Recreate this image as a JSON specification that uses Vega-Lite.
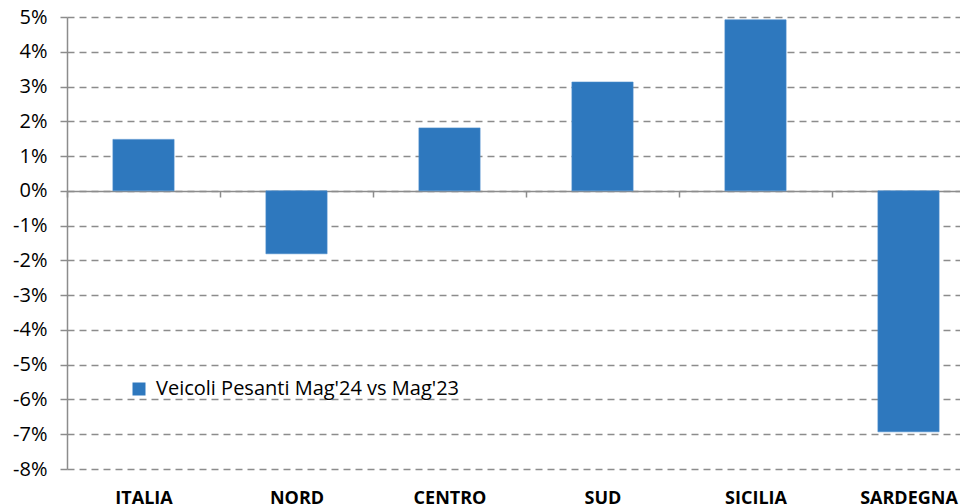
{
  "$schema": "https://vega.github.io/schema/vega-lite/v6.json",
  "width": 918,
  "height": 452,
  "autosize": {"type": "none"},
  "padding": {"left": 67, "top": 17, "right": 0, "bottom": 35},
  "background": "white",
  "config": {
    "view": {"stroke": null},
    "font": "Open Sans"
  },
  "data": {
    "values": [
      {"region": "ITALIA", "value": 0.0148, "series": "Veicoli Pesanti Mag'24 vs Mag'23"},
      {"region": "NORD", "value": -0.0181, "series": "Veicoli Pesanti Mag'24 vs Mag'23"},
      {"region": "CENTRO", "value": 0.0181, "series": "Veicoli Pesanti Mag'24 vs Mag'23"},
      {"region": "SUD", "value": 0.0313, "series": "Veicoli Pesanti Mag'24 vs Mag'23"},
      {"region": "SICILIA", "value": 0.0492, "series": "Veicoli Pesanti Mag'24 vs Mag'23"},
      {"region": "SARDEGNA", "value": -0.0693, "series": "Veicoli Pesanti Mag'24 vs Mag'23"}
    ]
  },
  "mark": {"type": "bar", "width": {"band": 0.4}, "stroke": "#4a8ccb", "strokeWidth": 0.6},
  "encoding": {
    "x": {
      "field": "region",
      "type": "nominal",
      "sort": null,
      "scale": {"paddingInner": 0, "paddingOuter": 0},
      "axis": {
        "title": null,
        "orient": "bottom",
        "offset": -278,
        "labelAngle": 0,
        "labelFont": "Open Sans",
        "labelFontSize": 18,
        "labelFontWeight": "bold",
        "labelColor": "#000000",
        "labelPadding": 292,
        "domainColor": "#8c8c8c",
        "domainWidth": 1.5,
        "tickColor": "#8c8c8c",
        "tickWidth": 1.5,
        "tickSize": 6,
        "tickBand": "extent",
        "grid": false
      }
    },
    "y": {
      "field": "value",
      "type": "quantitative",
      "scale": {"domain": [-0.08, 0.05], "nice": false},
      "axis": {
        "title": null,
        "values": [-0.08, -0.07, -0.06, -0.05, -0.04, -0.03, -0.02, -0.01, 0, 0.01, 0.02, 0.03, 0.04, 0.05],
        "labelExpr": "replace(format(datum.value, '.0%'), '\u2212', '-')",
        "labelFont": "Open Sans",
        "labelFontSize": 20,
        "labelColor": "#000000",
        "labelPadding": 13,
        "domainColor": "#8c8c8c",
        "domainWidth": 1.5,
        "tickColor": "#8c8c8c",
        "tickWidth": 1.5,
        "tickSize": 7,
        "grid": true,
        "gridColor": "#8c8c8c",
        "gridWidth": 1.3,
        "gridDash": [7, 5]
      }
    },
    "color": {
      "field": "series",
      "type": "nominal",
      "scale": {"range": ["#2E78BE"]},
      "legend": {
        "title": null,
        "orient": "none",
        "legendX": 62,
        "legendY": 362,
        "padding": 0,
        "symbolType": "square",
        "symbolSize": 169,
        "symbolStrokeWidth": 0,
        "labelFont": "Open Sans",
        "labelFontSize": 20,
        "labelColor": "#000000",
        "labelOffset": 7,
        "labelLimit": 0
      }
    }
  }
}
